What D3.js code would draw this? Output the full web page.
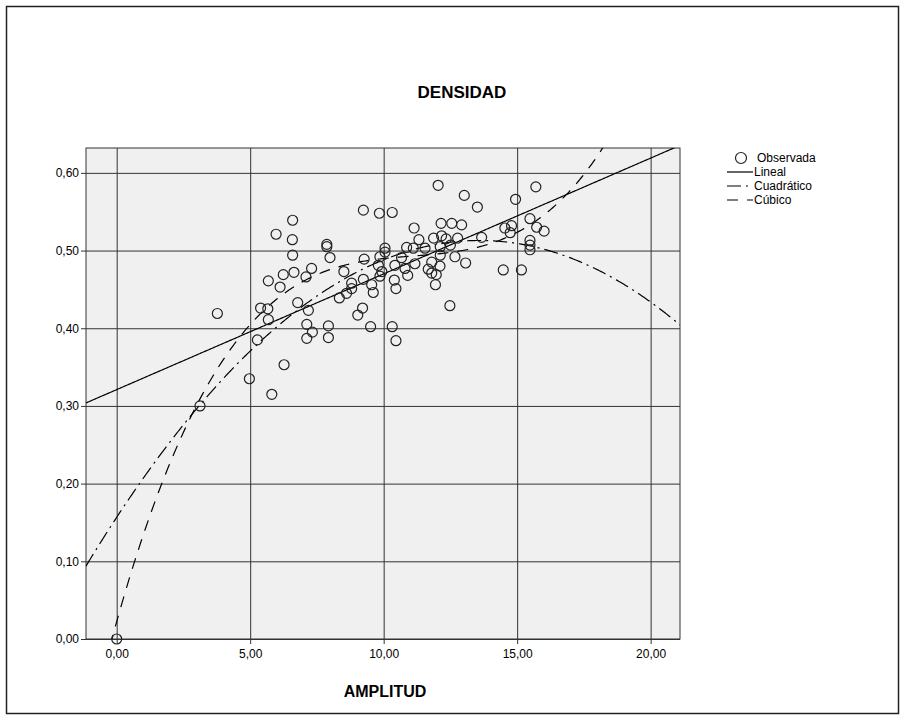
<!DOCTYPE html>
<html><head><meta charset="utf-8">
<script src="https://cdn.jsdelivr.net/npm/d3@7"></script>
<style>
body{margin:0;background:#fff}
text{font-family:"Liberation Sans",Arial,sans-serif;fill:#000}
</style>
</head><body>
<svg id="chart" width="906" height="720"></svg>
<script>
// Observed data (AMPLITUD, DENSIDAD)
const amplitud = [0.00,3.12,3.77,4.97,5.27,5.39,5.66,5.68,5.68,5.81,6.27,5.97,6.12,6.24,6.59,6.58,6.59,6.64,6.78,7.09,
7.30,7.18,7.12,7.33,7.12,7.93,7.93,7.87,7.87,7.99,8.34,8.51,8.61,8.80,8.80,9.03,9.21,9.24,9.27,9.24,
9.51,9.55,9.61,9.84,9.86,9.80,9.93,9.86,10.05,10.05,10.32,10.42,10.40,10.46,10.32,10.46,10.67,10.86,10.80,10.90,
11.11,11.14,11.17,11.32,11.55,11.67,11.80,11.80,11.87,11.97,11.94,12.04,12.12,12.12,12.11,12.15,12.17,12.34,12.48,12.50,
12.55,12.67,12.77,12.92,13.02,13.07,13.51,13.67,14.48,14.54,14.74,14.79,14.94,15.16,15.48,15.48,15.48,15.48,15.70,15.73,16.01];
const densidad = [0.000,0.300,0.419,0.335,0.385,0.426,0.425,0.411,0.461,0.315,0.353,0.521,0.453,0.469,0.539,0.514,0.494,0.472,0.433,0.466,
0.477,0.423,0.405,0.395,0.387,0.403,0.388,0.508,0.505,0.491,0.439,0.473,0.445,0.458,0.451,0.417,0.426,0.552,0.489,0.463,
0.402,0.456,0.446,0.548,0.492,0.481,0.473,0.467,0.503,0.498,0.549,0.481,0.462,0.451,0.402,0.384,0.491,0.504,0.477,0.468,
0.503,0.529,0.483,0.514,0.503,0.476,0.485,0.471,0.516,0.469,0.456,0.584,0.505,0.494,0.480,0.535,0.519,0.515,0.429,0.507,
0.535,0.492,0.516,0.533,0.571,0.484,0.556,0.517,0.475,0.529,0.523,0.532,0.566,0.475,0.541,0.513,0.507,0.501,0.582,0.530,0.525];

// Fitted model coefficients (constant, b1, b2, b3)
const linealCoef = [0.321, 0.0149];
const cuadraticoCoef = [0.1567, 0.05243, -0.001929];
const cubicoCoef = [0.02242, 0.1226, -0.010868, 0.0003281];

const xTicks = [0, 5, 10, 15, 20];
const yTicks = [0, 0.1, 0.2, 0.3, 0.4, 0.5, 0.6];
const legendLabels = ["Observada", "Lineal", "Cuadrático", "Cúbico"];
const titleText = "DENSIDAD";
const xLabel = "AMPLITUD";

const fmt = d3.formatLocale({decimal: ",", thousands: ".", grouping: [3], currency: ["", ""]}).format(".2f");

const svg = d3.select("#chart");
const P = {l: 86, r: 680, t: 148, b: 639};

svg.append("rect").attr("x", 6.5).attr("y", 6.5).attr("width", 892).attr("height", 707)
  .attr("fill", "#fff").attr("stroke", "#222").attr("stroke-width", 1.5);

const x = d3.scaleLinear().domain([-1.15, 21.1]).range([P.l, P.r]);
const y = d3.scaleLinear().domain([0, 0.632]).range([P.b, P.t]);

// plot background
svg.append("rect").attr("x", P.l).attr("y", P.t).attr("width", P.r - P.l).attr("height", P.b - P.t)
  .attr("fill", "#f0f0f0");

// grid + ticks
const gy = svg.append("g").attr("transform", `translate(${P.r},0)`)
  .call(d3.axisLeft(y).tickValues(yTicks).tickSize(P.r - P.l + 5).tickFormat(""));
const gx = svg.append("g").attr("transform", `translate(0,${P.t})`)
  .call(d3.axisBottom(x).tickValues(xTicks).tickSize(P.b - P.t + 5).tickFormat(""));
[gy, gx].forEach(g => {
  g.select(".domain").remove();
  g.selectAll(".tick line").attr("stroke", "#333").attr("stroke-width", 1);
});

// frame
svg.append("rect").attr("x", P.l).attr("y", P.t).attr("width", P.r - P.l).attr("height", P.b - P.t)
  .attr("fill", "none").attr("stroke", "#333").attr("stroke-width", 1);

// tick labels
const ly = svg.append("g").attr("transform", `translate(${P.l - 5},0)`)
  .call(d3.axisLeft(y).tickValues(yTicks).tickSize(0).tickPadding(2).tickFormat(fmt));
const lx = svg.append("g").attr("transform", `translate(0,${P.b + 5})`)
  .call(d3.axisBottom(x).tickValues(xTicks).tickSize(0).tickPadding(5).tickFormat(fmt));
[ly, lx].forEach(g => {
  g.select(".domain").remove();
  g.selectAll("text").attr("font-size", 12).attr("font-family", "Liberation Sans, Arial, sans-serif").attr("fill", "#000");
});

// clip
svg.append("clipPath").attr("id", "clip").append("rect")
  .attr("x", P.l).attr("y", P.t).attr("width", P.r - P.l).attr("height", P.b - P.t);

const poly = c => v => c.reduce((s, k, i) => s + k * Math.pow(v, i), 0);
const xs = d3.range(-1.15, 21.11, 0.05);
const lineGen = f => d3.line().x(d => x(d)).y(d => y(f(d)));

const curves = svg.append("g").attr("clip-path", "url(#clip)");
const models = [
  {coef: linealCoef, dash: null},
  {coef: cuadraticoCoef, dash: "14,5,2,5"},
  {coef: cubicoCoef, dash: "11,9"}
];
models.forEach(m => {
  curves.append("path").datum(xs).attr("d", lineGen(poly(m.coef)))
    .attr("fill", "none").attr("stroke", "#000").attr("stroke-width", 1.2)
    .attr("stroke-dasharray", m.dash);
});

// points
svg.append("g").selectAll("circle").data(amplitud).join("circle")
  .attr("cx", d => x(d)).attr("cy", (d, i) => y(densidad[i])).attr("r", 5)
  .attr("fill", "none").attr("stroke", "#222").attr("stroke-width", 1.2);

// title & axis label
svg.append("text").attr("x", 462).attr("y", 98).attr("text-anchor", "middle")
  .attr("font-size", 17).attr("font-weight", "bold").text(titleText);
svg.append("text").attr("x", 385).attr("y", 697).attr("text-anchor", "middle")
  .attr("font-size", 16).attr("font-weight", "bold").text(xLabel);

// legend
const lg = svg.append("g");
const rowY = [158, 172, 186, 200];
lg.append("circle").attr("cx", 741).attr("cy", rowY[0]).attr("r", 5.5)
  .attr("fill", "none").attr("stroke", "#222").attr("stroke-width", 1.2);
[null, "14,5,2,5", "11,9"].forEach((dash, i) => {
  lg.append("line").attr("x1", 727).attr("x2", 753).attr("y1", rowY[i + 1]).attr("y2", rowY[i + 1])
    .attr("stroke", "#000").attr("stroke-width", 1.2).attr("stroke-dasharray", dash);
});
lg.selectAll("text").data(legendLabels).join("text")
  .attr("x", (d, i) => i === 0 ? 757 : 754).attr("y", (d, i) => rowY[i] + 4)
  .attr("font-size", 12).text(d => d);
</script>
</body></html>
